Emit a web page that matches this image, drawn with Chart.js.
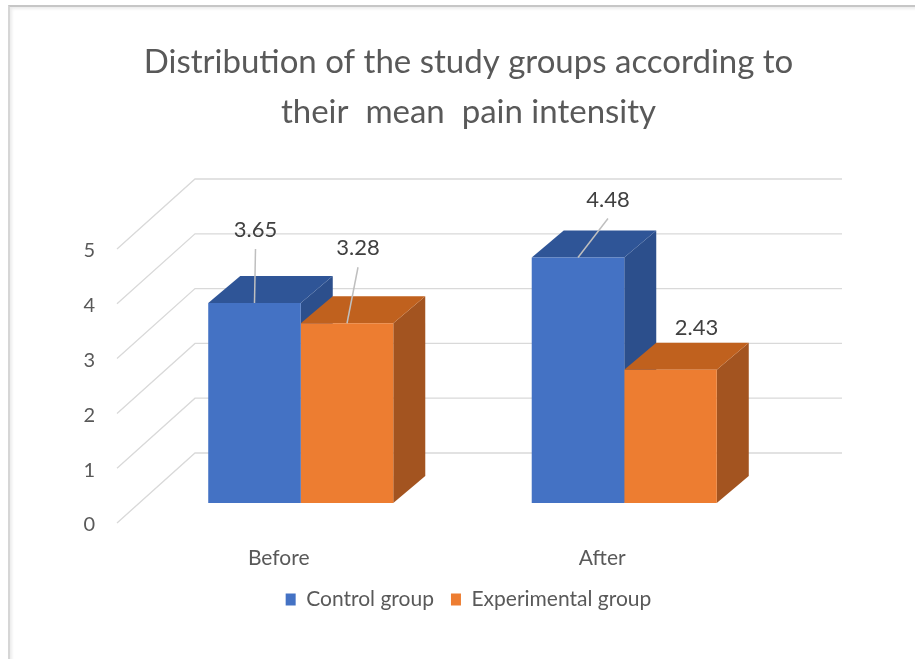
<!DOCTYPE html>
<html>
<head>
<meta charset="utf-8">
<title>Mean pain intensity</title>
<script src="https://cdn.jsdelivr.net/npm/chart.js@4.4.0/dist/chart.umd.min.js"></script>
<style>
    html, body { margin: 0; padding: 0; background: #fff; overflow: hidden; }
    #frame {
        position: absolute; left: 8px; top: 5px; width: 1000px; height: 700px;
        border-left: 2px solid #d6d6d6; border-top: 2px solid #c6c6c6;
        box-shadow: inset 2px 2px 3px #ececec;
    }
    #wrap { position: absolute; left: 0; top: 0; width: 937px; height: 659px; }
</style>
</head>
<body>
<div id="frame"></div>
<div id="wrap"><canvas id="chart"></canvas></div>
<script>
// chart data
const categories = ['Before', 'After'];
const controlGroup = [3.65, 4.48];
const experimentalGroup = [3.28, 2.43];
const yTicks = [0, 1, 2, 3, 4, 5];

const FONT = 'Lato, "Open Sans", sans-serif';
const TEXT = '#595959';

// fake 3d: depth of each column and of the back wall
const depth = { x: 32, y: -27 };
const wall = { x: 56, y: -50 };
const front = { x: -22, y: 20 };

// where excel put the value labels, relative to the column top centre
const labelNudges = [
    [{ x: 1, y: -73, leader: true }, { x: 30, y: -58, leader: true }],
    [{ x: 11, y: -75, leader: true }, { x: 26, y: -42, leader: false }]
];

const bars3d = {
    id: 'bars3d',
    beforeDatasetsDraw(chart) {
        const ctx = chart.ctx;
        const yScale = chart.scales.y;
        const area = chart.chartArea;

        // perspective grid: back wall lines + diagonals on the left wall
        ctx.save();
        ctx.strokeStyle = '#d9d9d9';
        ctx.lineWidth = 1.3;
        yTicks.forEach(v => {
            const py = yScale.getPixelForValue(v);
            ctx.beginPath();
            ctx.moveTo(area.left + front.x, py + front.y);
            ctx.lineTo(area.left + wall.x, py + wall.y);
            ctx.lineTo(area.right + wall.x, py + wall.y);
            ctx.stroke();
        });

        // side and top faces, drawn before the front faces chart.js paints
        categories.forEach((c, i) => {
            chart.data.datasets.forEach((ds, d) => {
                const bar = chart.getDatasetMeta(d).data[i];
                const { x, y, width, base } = bar.getProps(['x', 'y', 'width', 'base'], true);
                const left = x - width / 2;
                const right = x + width / 2;

                ctx.fillStyle = ds.sideColor;
                ctx.beginPath();
                ctx.moveTo(right, y);
                ctx.lineTo(right + depth.x, y + depth.y);
                ctx.lineTo(right + depth.x, base + depth.y);
                ctx.lineTo(right, base);
                ctx.closePath();
                ctx.fill();

                ctx.fillStyle = ds.topColor;
                ctx.beginPath();
                ctx.moveTo(left, y);
                ctx.lineTo(left + depth.x, y + depth.y);
                ctx.lineTo(right + depth.x, y + depth.y);
                ctx.lineTo(right, y);
                ctx.closePath();
                ctx.fill();
            });
        });
        ctx.restore();
    },
    afterDatasetsDraw(chart) {
        const ctx = chart.ctx;
        ctx.save();
        ctx.font = '22px ' + FONT;
        ctx.textAlign = 'center';
        ctx.textBaseline = 'middle';
        chart.data.datasets.forEach((ds, d) => {
            chart.getDatasetMeta(d).data.forEach((bar, i) => {
                const { x, y } = bar.getProps(['x', 'y'], true);
                const n = labelNudges[d][i];
                const lx = x + n.x;
                const ly = y + n.y;
                if (n.leader) {
                    ctx.strokeStyle = '#bfbfbf';
                    ctx.lineWidth = 1.5;
                    ctx.beginPath();
                    ctx.moveTo(lx, ly + 19);
                    ctx.lineTo(x, y);
                    ctx.stroke();
                }
                ctx.fillStyle = '#404040';
                ctx.fillText(ds.data[i].toFixed(2), lx, ly);
            });
        });
        ctx.restore();
    }
};

new Chart(document.getElementById('chart'), {
    type: 'bar',
    data: {
        labels: categories,
        datasets: [
            {
                label: 'Control group',
                data: controlGroup,
                backgroundColor: '#4472c4',
                topColor: '#2f5597',
                sideColor: '#2c4f8c',
                borderWidth: 0
            },
            {
                label: 'Experimental group',
                data: experimentalGroup,
                backgroundColor: '#ed7d31',
                topColor: '#c0611e',
                sideColor: '#a35420',
                borderWidth: 0
            }
        ]
    },
    options: {
        responsive: true,
        maintainAspectRatio: false,
        animation: false,
        events: [],
        layout: { padding: { left: 0, right: 0, top: 0, bottom: 39 } },
        datasets: {
            bar: { barPercentage: 1, categoryPercentage: 0.572 }
        },
        scales: {
            x: {
                grid: { display: false, drawTicks: false },
                border: { display: false },
                ticks: {
                    color: TEXT,
                    font: { family: FONT, size: 21 },
                    padding: 43,
                    labelOffset: -22
                },
                afterFit(scale) { scale.height = 69; }
            },
            y: {
                min: 0,
                max: 5,
                grid: { display: false, drawTicks: false },
                border: { display: false },
                afterBuildTicks(scale) { scale.ticks = yTicks.map(v => ({ value: v })); },
                ticks: {
                    color: TEXT,
                    font: { family: FONT, size: 20 },
                    padding: 44,
                    labelOffset: 22
                },
                afterFit(scale) { scale.width = 139; }
            },
            // empty axis that only keeps the room right of the back wall
            spacer: {
                position: 'right',
                grid: { display: false },
                border: { display: false },
                ticks: { display: false },
                afterFit(scale) { scale.width = 151; }
            }
        },
        plugins: {
            title: {
                display: true,
                text: ['Distribution of the study groups according to', 'their  mean  pain intensity'],
                color: TEXT,
                font: { family: FONT, size: 33, weight: 'normal', lineHeight: 1.515 },
                padding: { top: 37, bottom: 92 }
            },
            legend: {
                position: 'bottom',
                labels: {
                    color: TEXT,
                    font: { family: FONT, size: 21 },
                    boxWidth: 10,
                    boxHeight: 12,
                    padding: 17
                }
            },
            tooltip: { enabled: false }
        }
    },
    plugins: [bars3d]
});
</script>
</body>
</html>
